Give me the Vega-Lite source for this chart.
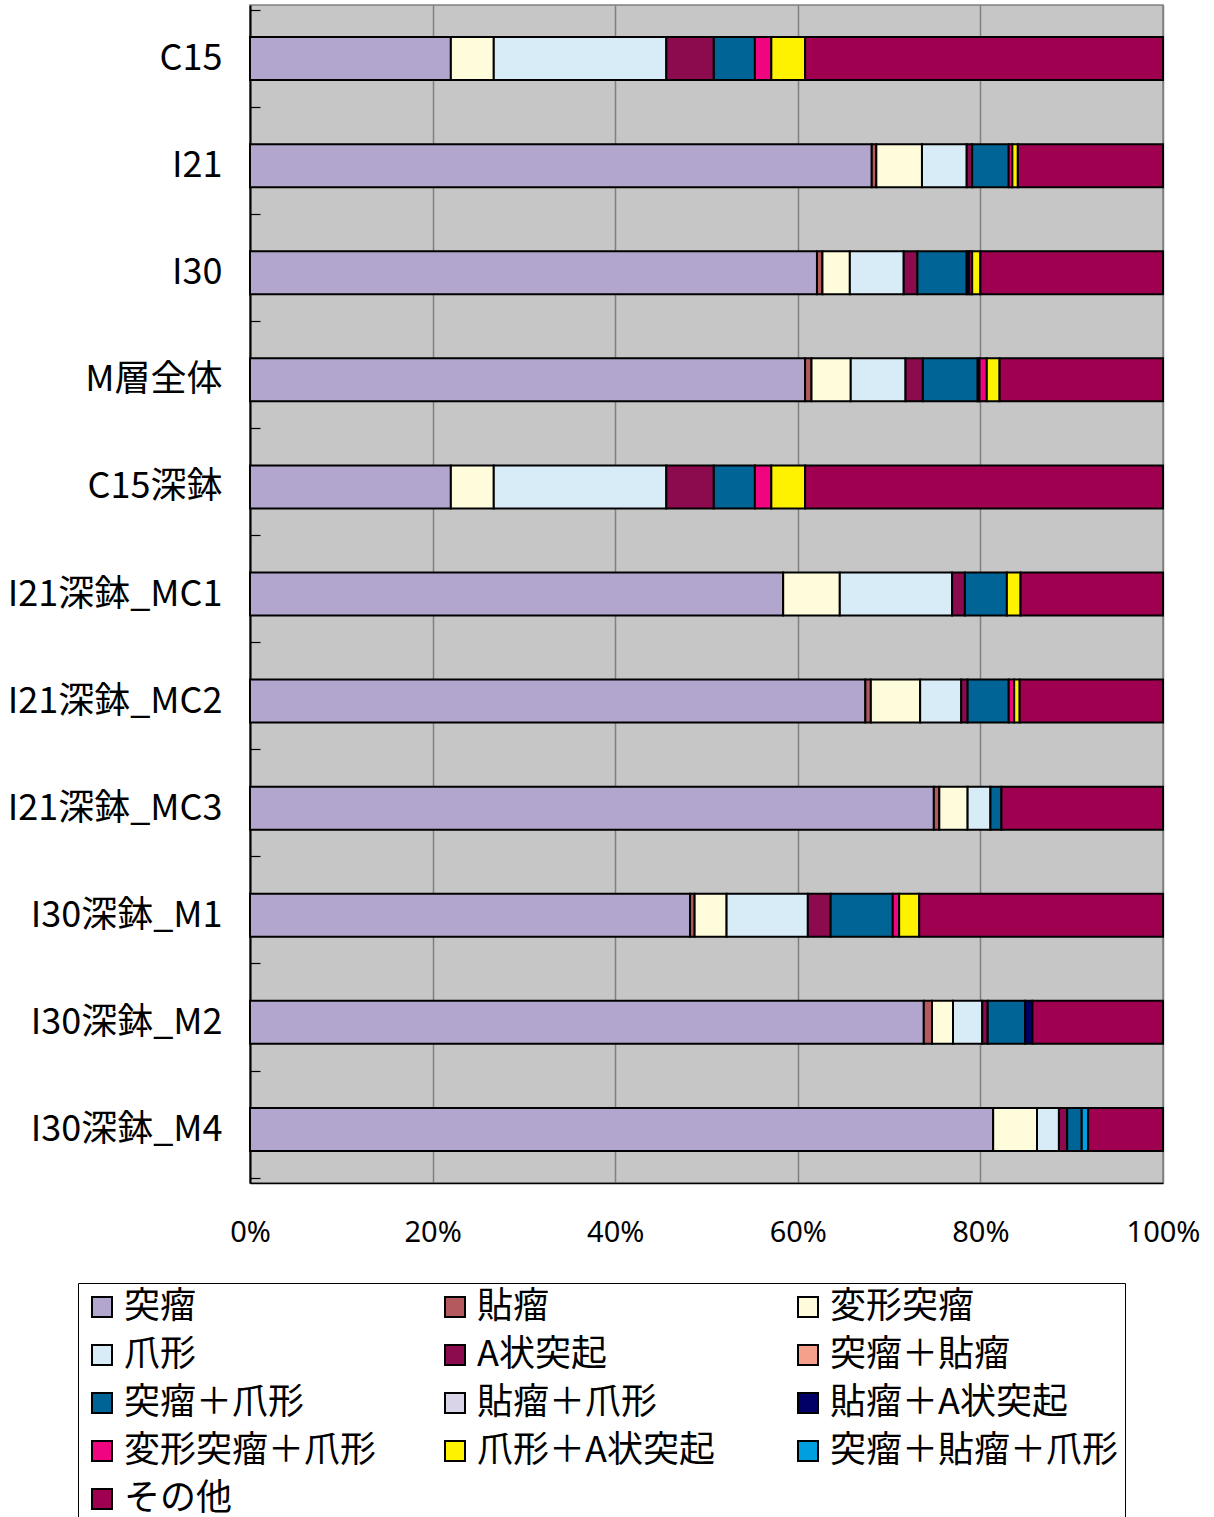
{
  "$schema": "https://vega.github.io/schema/vega-lite/v6.json",
  "width": 913,
  "height": 1178,
  "autosize": {"type": "none"},
  "padding": {"left": 250, "top": 5, "right": 51, "bottom": 334},
  "background": "white",
  "config": {
    "font": "Noto Sans CJK JP",
    "view": {"fill": "#C6C6C6", "stroke": "#808080", "strokeWidth": 1.5}
  },
  "data": {
    "values": [
      {"cat": "C15", "type": "突瘤", "v": 22.0},
      {"cat": "C15", "type": "変形突瘤", "v": 4.7},
      {"cat": "C15", "type": "爪形", "v": 18.9},
      {"cat": "C15", "type": "A状突起", "v": 5.2},
      {"cat": "C15", "type": "突瘤＋爪形", "v": 4.5},
      {"cat": "C15", "type": "変形突瘤＋爪形", "v": 1.8},
      {"cat": "C15", "type": "爪形＋A状突起", "v": 3.7},
      {"cat": "C15", "type": "その他", "v": 39.2},

      {"cat": "I21", "type": "突瘤", "v": 68.1},
      {"cat": "I21", "type": "貼瘤", "v": 0.5},
      {"cat": "I21", "type": "変形突瘤", "v": 5.0},
      {"cat": "I21", "type": "爪形", "v": 4.9},
      {"cat": "I21", "type": "A状突起", "v": 0.6},
      {"cat": "I21", "type": "突瘤＋爪形", "v": 4.0},
      {"cat": "I21", "type": "変形突瘤＋爪形", "v": 0.4},
      {"cat": "I21", "type": "爪形＋A状突起", "v": 0.6},
      {"cat": "I21", "type": "その他", "v": 15.9},

      {"cat": "I30", "type": "突瘤", "v": 62.1},
      {"cat": "I30", "type": "貼瘤", "v": 0.6},
      {"cat": "I30", "type": "変形突瘤", "v": 3.0},
      {"cat": "I30", "type": "爪形", "v": 5.9},
      {"cat": "I30", "type": "A状突起", "v": 1.5},
      {"cat": "I30", "type": "突瘤＋爪形", "v": 5.4},
      {"cat": "I30", "type": "貼瘤＋A状突起", "v": 0.3},
      {"cat": "I30", "type": "変形突瘤＋爪形", "v": 0.3},
      {"cat": "I30", "type": "爪形＋A状突起", "v": 0.9},
      {"cat": "I30", "type": "その他", "v": 20.0},

      {"cat": "M層全体", "type": "突瘤", "v": 60.8},
      {"cat": "M層全体", "type": "貼瘤", "v": 0.7},
      {"cat": "M層全体", "type": "変形突瘤", "v": 4.3},
      {"cat": "M層全体", "type": "爪形", "v": 6.0},
      {"cat": "M層全体", "type": "A状突起", "v": 1.9},
      {"cat": "M層全体", "type": "突瘤＋爪形", "v": 6.0},
      {"cat": "M層全体", "type": "貼瘤＋A状突起", "v": 0.2},
      {"cat": "M層全体", "type": "変形突瘤＋爪形", "v": 0.8},
      {"cat": "M層全体", "type": "爪形＋A状突起", "v": 1.4},
      {"cat": "M層全体", "type": "その他", "v": 17.9},

      {"cat": "C15深鉢", "type": "突瘤", "v": 22.0},
      {"cat": "C15深鉢", "type": "変形突瘤", "v": 4.7},
      {"cat": "C15深鉢", "type": "爪形", "v": 18.9},
      {"cat": "C15深鉢", "type": "A状突起", "v": 5.2},
      {"cat": "C15深鉢", "type": "突瘤＋爪形", "v": 4.5},
      {"cat": "C15深鉢", "type": "変形突瘤＋爪形", "v": 1.8},
      {"cat": "C15深鉢", "type": "爪形＋A状突起", "v": 3.7},
      {"cat": "C15深鉢", "type": "その他", "v": 39.2},

      {"cat": "I21深鉢_MC1", "type": "突瘤", "v": 58.4},
      {"cat": "I21深鉢_MC1", "type": "変形突瘤", "v": 6.2},
      {"cat": "I21深鉢_MC1", "type": "爪形", "v": 12.3},
      {"cat": "I21深鉢_MC1", "type": "A状突起", "v": 1.4},
      {"cat": "I21深鉢_MC1", "type": "突瘤＋爪形", "v": 4.6},
      {"cat": "I21深鉢_MC1", "type": "爪形＋A状突起", "v": 1.5},
      {"cat": "I21深鉢_MC1", "type": "その他", "v": 15.6},

      {"cat": "I21深鉢_MC2", "type": "突瘤", "v": 67.4},
      {"cat": "I21深鉢_MC2", "type": "貼瘤", "v": 0.6},
      {"cat": "I21深鉢_MC2", "type": "変形突瘤", "v": 5.4},
      {"cat": "I21深鉢_MC2", "type": "爪形", "v": 4.5},
      {"cat": "I21深鉢_MC2", "type": "A状突起", "v": 0.7},
      {"cat": "I21深鉢_MC2", "type": "突瘤＋爪形", "v": 4.5},
      {"cat": "I21深鉢_MC2", "type": "変形突瘤＋爪形", "v": 0.6},
      {"cat": "I21深鉢_MC2", "type": "爪形＋A状突起", "v": 0.6},
      {"cat": "I21深鉢_MC2", "type": "その他", "v": 15.7},

      {"cat": "I21深鉢_MC3", "type": "突瘤", "v": 74.9},
      {"cat": "I21深鉢_MC3", "type": "貼瘤", "v": 0.6},
      {"cat": "I21深鉢_MC3", "type": "変形突瘤", "v": 3.1},
      {"cat": "I21深鉢_MC3", "type": "爪形", "v": 2.5},
      {"cat": "I21深鉢_MC3", "type": "突瘤＋爪形", "v": 1.2},
      {"cat": "I21深鉢_MC3", "type": "その他", "v": 17.7},

      {"cat": "I30深鉢_M1", "type": "突瘤", "v": 48.2},
      {"cat": "I30深鉢_M1", "type": "貼瘤", "v": 0.5},
      {"cat": "I30深鉢_M1", "type": "変形突瘤", "v": 3.5},
      {"cat": "I30深鉢_M1", "type": "爪形", "v": 8.9},
      {"cat": "I30深鉢_M1", "type": "A状突起", "v": 2.5},
      {"cat": "I30深鉢_M1", "type": "突瘤＋爪形", "v": 6.8},
      {"cat": "I30深鉢_M1", "type": "変形突瘤＋爪形", "v": 0.7},
      {"cat": "I30深鉢_M1", "type": "爪形＋A状突起", "v": 2.2},
      {"cat": "I30深鉢_M1", "type": "その他", "v": 26.7},

      {"cat": "I30深鉢_M2", "type": "突瘤", "v": 73.8},
      {"cat": "I30深鉢_M2", "type": "貼瘤", "v": 0.9},
      {"cat": "I30深鉢_M2", "type": "変形突瘤", "v": 2.3},
      {"cat": "I30深鉢_M2", "type": "爪形", "v": 3.2},
      {"cat": "I30深鉢_M2", "type": "A状突起", "v": 0.6},
      {"cat": "I30深鉢_M2", "type": "突瘤＋爪形", "v": 4.1},
      {"cat": "I30深鉢_M2", "type": "貼瘤＋A状突起", "v": 0.8},
      {"cat": "I30深鉢_M2", "type": "その他", "v": 14.3},

      {"cat": "I30深鉢_M4", "type": "突瘤", "v": 81.4},
      {"cat": "I30深鉢_M4", "type": "変形突瘤", "v": 4.8},
      {"cat": "I30深鉢_M4", "type": "爪形", "v": 2.4},
      {"cat": "I30深鉢_M4", "type": "A状突起", "v": 0.9},
      {"cat": "I30深鉢_M4", "type": "突瘤＋爪形", "v": 1.6},
      {"cat": "I30深鉢_M4", "type": "突瘤＋貼瘤＋爪形", "v": 0.7},
      {"cat": "I30深鉢_M4", "type": "その他", "v": 8.2}
    ]
  },
  "transform": [
    {"calculate": "indexof(['突瘤','貼瘤','変形突瘤','爪形','A状突起','突瘤＋貼瘤','突瘤＋爪形','貼瘤＋爪形','貼瘤＋A状突起','変形突瘤＋爪形','爪形＋A状突起','突瘤＋貼瘤＋爪形','その他'], datum.type)", "as": "k"}
  ],
  "mark": {"type": "bar", "size": 43, "stroke": "black", "strokeWidth": 2},
  "encoding": {
    "y": {
      "field": "cat",
      "type": "nominal",
      "sort": ["C15", "I21", "I30", "M層全体", "C15深鉢", "I21深鉢_MC1", "I21深鉢_MC2", "I21深鉢_MC3", "I30深鉢_M1", "I30深鉢_M2", "I30深鉢_M4"],
      "title": null,
      "axis": {
        "labelFontSize": 36,
        "labelColor": "black",
        "labelLimit": 400,
        "domainColor": "black",
        "domainWidth": 2,
        "tickBand": "extent",
        "tickColor": "black",
        "tickWidth": 1.2,
        "tickSize": -10,
        "labelPadding": 38,
        "grid": false
      }
    },
    "x": {
      "field": "v",
      "type": "quantitative",
      "stack": "normalize",
      "title": null,
      "axis": {
        "format": ".0%",
        "values": [0, 0.2, 0.4, 0.6, 0.8, 1],
        "labelFontSize": 29,
        "labelColor": "black",
        "labelFont": "Noto Sans",
        "labelFlush": false,
        "labelOverlap": false,
        "grid": true,
        "gridColor": "#808080",
        "gridWidth": 1.5,
        "ticks": false,
        "domainColor": "black",
        "domainWidth": 1.5,
        "labelPadding": 35
      }
    },
    "color": {
      "field": "type",
      "type": "nominal",
      "scale": {
        "domain": ["突瘤", "貼瘤", "変形突瘤", "爪形", "A状突起", "突瘤＋貼瘤", "突瘤＋爪形", "貼瘤＋爪形", "貼瘤＋A状突起", "変形突瘤＋爪形", "爪形＋A状突起", "突瘤＋貼瘤＋爪形", "その他"],
        "range": ["#B2A6CE", "#B45A5F", "#FFFCDC", "#D8ECF8", "#8C0A4E", "#F4A08A", "#006496", "#D9D4E8", "#000066", "#F0047F", "#FFF200", "#00A0E0", "#A00050"]
      },
      "legend": {
        "orient": "none",
        "direction": "horizontal",
        "legendX": -172,
        "legendY": 1278,
        "columns": 3,
        "title": null,
        "symbolType": "square",
        "symbolSize": 400,
        "symbolStrokeColor": "black",
        "symbolStrokeWidth": 2,
        "labelFontSize": 36,
        "labelColor": "black",
        "labelLimit": 400,
        "labelOffset": 4,
        "rowPadding": 12,
        "columnPadding": 24,
        "gridAlign": "all",
        "strokeColor": "black",
        "fillColor": "white",
        "padding": 6
      }
    },
    "order": {"field": "k", "type": "quantitative"}
  }
}
